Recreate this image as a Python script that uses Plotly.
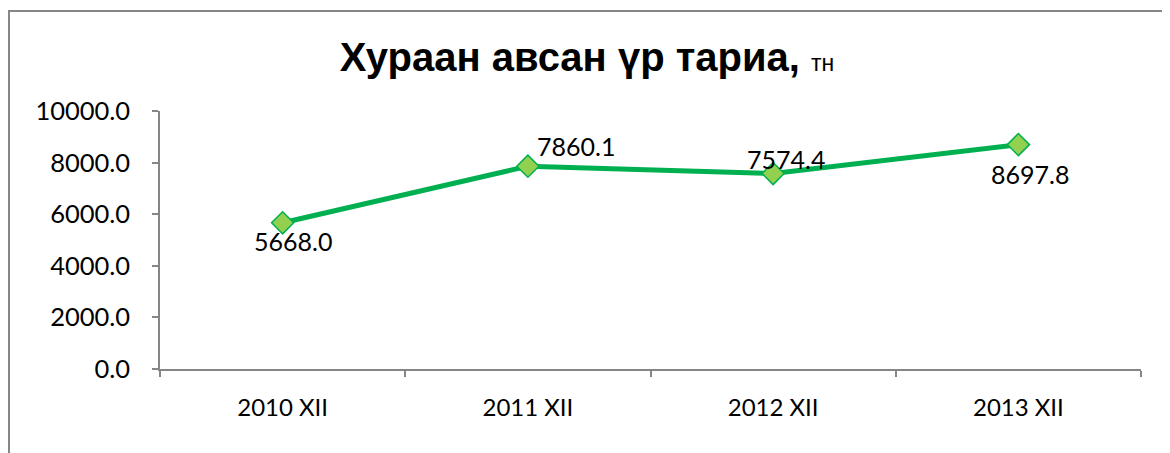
import plotly.graph_objects as go

# ---- data ----
categories = ["2010 XII", "2011 XII", "2012 XII", "2013 XII"]
values = [5668.0, 7860.1, 7574.4, 8697.8]
y_ticks = [0, 2000, 4000, 6000, 8000, 10000]
title_main = "Хураан авсан үр тариа,"
title_unit = "тн"

# ---- style / layout ----
# page body has an 8px margin, so the figure is sized to fit the window
W, H = 1162, 445
ML, MR, MT, MB = 152, 29, 103, 84
PW, PH = W - ML - MR, H - MT - MB
label_shift = [(10, -18), (48, 20), (13, 15), (12, -29)]
LINE_GREEN = "#00B050"
MARK_GREEN = "#92D050"
AXIS_GRAY = "#868686"
TXT_FONT = "Lato, Carlito, Calibri, sans-serif"

fig = go.Figure()
fig.add_trace(go.Scatter(
    x=categories, y=values, mode="lines+markers",
    line=dict(color=LINE_GREEN, width=5),
    marker=dict(symbol="diamond", size=17, color=MARK_GREEN,
                line=dict(color=LINE_GREEN, width=1.5)),
    showlegend=False, hoverinfo="x+y",
))

for c, v, (dx, dy) in zip(categories, values, label_shift):
    fig.add_annotation(x=c, y=v, text=f"{v:.1f}", showarrow=False,
                       xshift=dx, yshift=dy, xanchor="center", yanchor="middle",
                       font=dict(family=TXT_FONT, size=25, color="#000000"))

def px_x(p):
    return (p - ML) / PW

def px_y(p):
    return (H - MB - p) / PH

fig.add_shape(type="rect", xref="paper", yref="paper",
              x0=px_x(1), x1=px_x(W + 10), y0=px_y(H + 10), y1=px_y(3),
              line=dict(color=AXIS_GRAY, width=2), fillcolor="rgba(0,0,0,0)",
              layer="below")

fig.update_layout(
    width=W, height=H,
    margin=dict(l=ML, r=MR, t=MT, b=MB, autoexpand=False),
    paper_bgcolor="white", plot_bgcolor="white",
    title=dict(
        text=f"<b>{title_main}</b> <span style='font-size:23px'>{title_unit}</span>",
        x=579 / W, xref="container", xanchor="center",
        y=1 - 49 / H, yref="container", yanchor="middle",
        font=dict(family="Liberation Sans, Arial, sans-serif", size=40, color="#000000"),
    ),
    xaxis=dict(
        type="category", range=[-0.5, len(categories) - 0.5],
        showline=True, linecolor=AXIS_GRAY, linewidth=1.5,
        ticks="outside", tickson="boundaries", ticklen=6, tickcolor=AXIS_GRAY, tickwidth=1.5,
        showgrid=False, zeroline=False, automargin=False,
        tickfont=dict(family=TXT_FONT, size=24, color="#000000"),
        ticklabelstandoff=16,
    ),
    yaxis=dict(
        range=[0, 10000], tickvals=y_ticks, tickformat=".1f",
        showline=True, linecolor=AXIS_GRAY, linewidth=1.5,
        ticks="outside", ticklen=6, tickcolor=AXIS_GRAY, tickwidth=1.5,
        showgrid=False, zeroline=False, automargin=False,
        tickfont=dict(family=TXT_FONT, size=25.5, color="#000000"),
        ticklabelstandoff=17,
    ),
)

fig.write_html("out.html")
